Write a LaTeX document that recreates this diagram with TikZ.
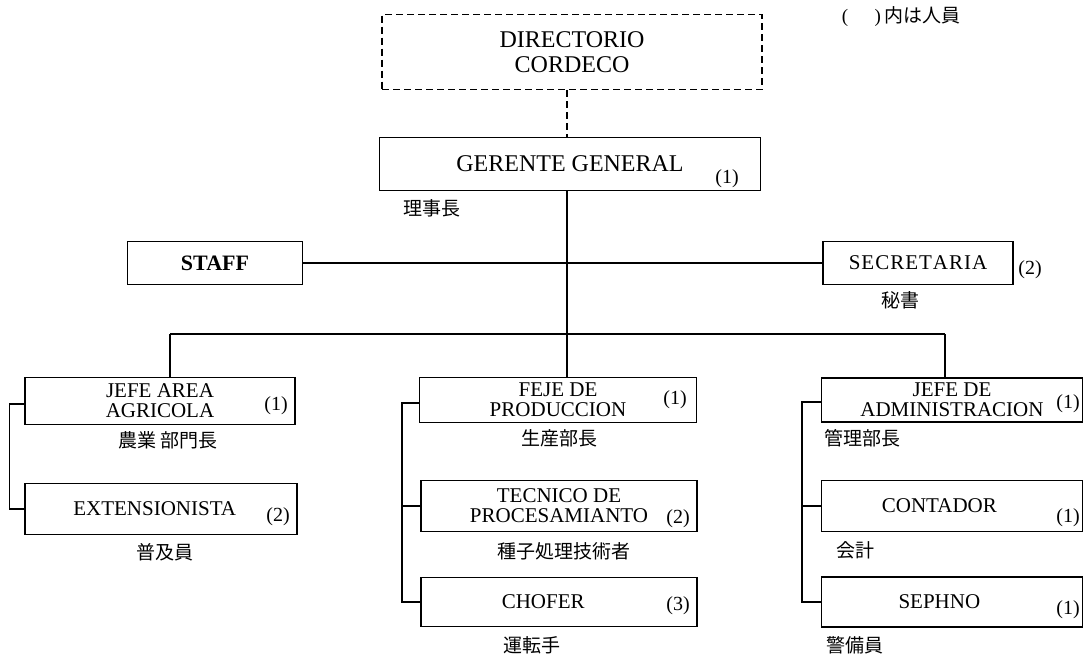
\documentclass[tikz,border=0pt]{standalone}
\usepackage{fontspec}
\setmainfont{Liberation Serif}
\newfontfamily\cjk{Noto Sans CJK JP}

\begin{document}
\begin{tikzpicture}[x=1pt, y=-1pt, % pixel grid of the scan
          post/.style={draw, line width=1.4pt, align=center, inner sep=0pt, font=\fontsize{21}{20}\selectfont},
          board/.style={post, dashed, dash pattern=on 7pt off 4pt},
          count/.style={inner sep=0pt, font=\fontsize{20}{20}\selectfont},
          jp/.style={inner sep=0pt, font=\cjk\fontsize{19}{19}\selectfont},
          link/.style={line width=1.4pt}
        ]
        \useasboundingbox (0,0) rectangle (1085,656);
        % Direccion
        \node[board, minimum width=380pt, minimum height=75pt, font=\fontsize{24}{25}\selectfont] (dir) at (572,52) {DIRECTORIO\\CORDECO};
        \node[post, minimum width=381pt, minimum height=53pt, font=\fontsize{24}{25}\selectfont] (ger) at (570,164) {GERENTE GENERAL};
        \node[count] (gern) at (727,179) {(1)};
        \node[jp] (gerjp) at (432,208) {理事長};
        \node[inner sep=0pt, font=\fontsize{19}{19}\selectfont] (note) at (901,17) {(\hspace{1.4em})\,\cjk 内は人員};

        % Staff y secretaria
        \node[post, minimum width=175pt, minimum height=43pt, font=\fontsize{22}{22}\bfseries] (staff) at (215,263) {STAFF};
        \node[post, minimum width=190pt, minimum height=43pt] (sec) at (918,263) {S\kern1ptE\kern1ptC\kern1ptR\kern1ptE\kern1ptT\kern1ptA\kern1ptR\kern1ptI\kern1ptA};
        \node[count] (secn) at (1030,270) {(2)};
        \node[jp] (secjp) at (900,300) {秘書};

        % Area agricola
        \node[post, minimum width=270pt, minimum height=47pt] (agr) at (160,401) {JEFE AREA\\AGRICOLA};
        \node[count] (agrn) at (276,406) {(1)};
        \node[jp] (agrjp) at (168,440) {農業 部門長};
        \node[post, minimum width=272pt, minimum height=51pt] (ext) at (161,509) {EXTENSIONISTA\hspace{0.6em}};
        \node[count] (extn) at (278,517) {(2)};
        \node[jp] (extjp) at (165,552) {普及員};

        % Produccion
        \node[post, minimum width=277pt, minimum height=45pt] (prod) at (558,400) {FEJE DE\\PRODUCCION};
        \node[count] (prodn) at (675,400) {(1)};
        \node[jp] (prodjp) at (559,438) {生産部長};
        \node[post, minimum width=276pt, minimum height=51pt] (tec) at (559,506) {TECNICO DE\hspace{1.2em}\\PROCESAMIANTO\hspace{1.2em}};
        \node[count] (tecn) at (678,519) {(2)};
        \node[jp] (tecjp) at (564,551) {種子処理技術者};
        \node[post, minimum width=276pt, minimum height=49pt] (cho) at (559,602) {CHOFER\hspace{1.5em}};
        \node[count] (chon) at (678,606) {(3)};
        \node[jp] (chojp) at (532,645) {運転手};

        % Administracion
        \node[post, minimum width=261pt, minimum height=44pt] (adm) at (952,400) {JEFE DE\\ADMINISTRACION\hspace{0.4em}};
        \node[count] (admn) at (1068,404) {(1)};
        \node[jp] (admjp) at (862,438) {管理部長};
        \node[post, minimum width=261pt, minimum height=51pt] (con) at (952,506) {CONTADOR\hspace{1.2em}};
        \node[count] (conn) at (1068,518) {(1)};
        \node[jp] (conjp) at (855,550) {会計};
        \node[post, minimum width=261pt, minimum height=50pt] (sep) at (952,602) {SEPHNO\hspace{1.2em}};
        \node[count] (sepn) at (1068,610) {(1)};
        \node[jp] (sepjp) at (855,645) {警備員};

        % Lineas
        \coordinate (spine) at (567,334);
        \coordinate (busl) at (170,334);
        \coordinate (busr) at (945,334);
        \draw[link, dashed, dash pattern=on 7pt off 4pt] (dir.south -| spine) -- (ger.north -| spine);
        \draw[link] (ger.south -| spine) -- (spine);
        \draw[link] (staff.east) -- (sec.west);
        \draw[link] (busl) -- (busr);
        \draw[link] (busl) -- (busl |- agr.north);
        \draw[link] (spine) -- (spine |- prod.north);
        \draw[link] (busr) -- (busr |- adm.north);

        \draw[link] ([yshift=-3pt]agr.west) -- ++(-15,0) |- (ext.west);
        \draw[link] ([yshift=-3pt]prod.west) -- ++(-17,0) coordinate (pb) |- (cho.west);
        \draw[link] (pb |- tec.west) -- (tec.west);
        \draw[link] ([yshift=-2pt]adm.west) -- ++(-19,0) coordinate (ab) |- (sep.west);
        \draw[link] (ab |- con.west) -- (con.west);
\end{tikzpicture}
\end{document}
